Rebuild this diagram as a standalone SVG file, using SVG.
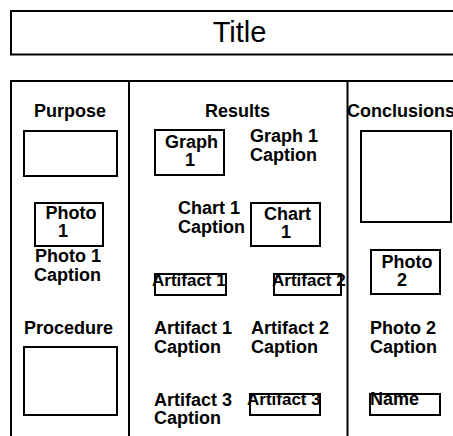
<svg xmlns="http://www.w3.org/2000/svg" width="453" height="436" viewBox="0 0 453 436">
<style>
.b{fill:#fff;stroke:#000;stroke-width:2}
.ln{stroke:#000;stroke-width:2;fill:none}
text{font-family:"Liberation Sans",Arial,Helvetica,sans-serif;font-weight:bold;font-size:18px;fill:#000}
.m{text-anchor:middle}
.s{font-size:17px}
.t{font-weight:normal;font-size:29px}
</style>
<rect width="453" height="436" fill="#fff"/>
<g id="title">
<rect class="b" x="11" y="11" width="460" height="43.5"/>
<text class="t m" x="239.5" y="41.5">Title</text>
</g>
<g id="frame">
<rect class="b" x="11" y="81" width="460" height="400"/>
<line class="ln" x1="129" y1="81" x2="129" y2="440"/>
<line class="ln" x1="347.5" y1="81" x2="347.5" y2="440"/>
</g>
<g id="purpose">
<text class="m" x="70" y="117">Purpose</text>
<rect class="b" x="24" y="131" width="93" height="45"/>
</g>
<g id="photo1">
<rect class="b" x="35" y="203" width="68" height="43"/>
<text class="m" x="71" y="219">Photo</text>
<text class="m" x="63" y="237">1</text>
</g>
<g id="photo1-caption">
<text x="35" y="262">Photo 1</text>
<text x="34" y="281">Caption</text>
</g>
<g id="procedure">
<text class="m" x="68.5" y="334">Procedure</text>
<rect class="b" x="24" y="347" width="93" height="68"/>
</g>
<g id="results">
<text class="m" x="237.5" y="117">Results</text>
</g>
<g id="graph1">
<rect class="b" x="155" y="130" width="69" height="45"/>
<text class="m" x="191.5" y="148">Graph</text>
<text class="m" x="190" y="166">1</text>
</g>
<g id="graph1-caption">
<text x="250" y="142">Graph 1</text>
<text x="250" y="161">Caption</text>
</g>
<g id="chart1-caption">
<text x="178" y="214">Chart 1</text>
<text x="178" y="233">Caption</text>
</g>
<g id="chart1">
<rect class="b" x="251" y="203" width="69" height="43"/>
<text class="m" x="287.5" y="220">Chart</text>
<text class="m" x="286" y="238">1</text>
</g>
<g id="artifact1">
<rect class="b" x="155" y="274" width="71" height="21"/>
<text class="s" x="152" y="286">Artifact 1</text>
</g>
<g id="artifact2">
<rect class="b" x="274" y="274" width="67" height="21"/>
<text class="s" x="272" y="286">Artifact 2</text>
</g>
<g id="artifact1-caption">
<text x="154" y="334">Artifact 1</text>
<text x="154" y="353">Caption</text>
</g>
<g id="artifact2-caption">
<text x="251" y="334">Artifact 2</text>
<text x="251" y="353">Caption</text>
</g>
<g id="artifact3-caption">
<text x="154" y="406">Artifact 3</text>
<text x="154" y="424">Caption</text>
</g>
<g id="artifact3">
<rect class="b" x="250" y="394" width="70" height="21"/>
<text class="s" x="247" y="405">Artifact 3</text>
</g>
<g id="conclusions">
<text x="347" y="117">Conclusions</text>
<rect class="b" x="361" y="131" width="90" height="91"/>
</g>
<g id="photo2">
<rect class="b" x="371" y="250" width="69" height="44"/>
<text class="m" x="407" y="268">Photo</text>
<text class="m" x="402" y="286">2</text>
</g>
<g id="photo2-caption">
<text x="370" y="334">Photo 2</text>
<text x="370" y="353">Caption</text>
</g>
<g id="name">
<rect class="b" x="370" y="394" width="70" height="21"/>
<text x="370" y="405">Name</text>
</g>
</svg>
